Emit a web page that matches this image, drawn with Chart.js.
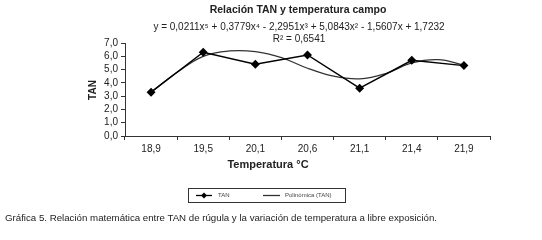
<!DOCTYPE html>
<html>
<head>
<meta charset="utf-8">
<script src="https://cdn.jsdelivr.net/npm/chart.js@4/dist/chart.umd.min.js"></script>
<style>
  html, body { margin: 0; padding: 0; background: #fff; }
  #wrap { position: relative; width: 542px; height: 240px; }
  #caption { position: absolute; left: 5px; top: 212px; font: 9.7px "Liberation Sans", Arial, sans-serif; color: #222; white-space: nowrap; }
</style>
</head>
<body>
<div id="wrap">
  <canvas id="c" width="542" height="240"></canvas>
  <div id="caption">Gráfica 5. Relación matemática entre TAN de rúgula y la variación de temperatura a libre exposición.</div>
</div>
<script>
// Categories (temperature °C)
const categories = ["18,9", "19,5", "20,1", "20,6", "21,1", "21,4", "21,9"];
// TAN observed values
const tanValues = [3.3, 6.3, 5.4, 6.1, 3.6, 5.7, 5.3];
// Polynomial trend line at half-category positions (1 = first category)
const trendX = [1, 1.5, 2, 2.5, 3, 3.5, 4, 4.5, 5, 5.5, 6, 6.5, 7];
const trendY = [3.3, 4.8, 6.0, 6.4, 6.35, 5.9, 5.1, 4.5, 4.3, 4.7, 5.5, 5.75, 5.35];
const yTicks = [0, 1, 2, 3, 4, 5, 6, 7];

const chartTitle = "Relación TAN y temperatura campo";
const equation = "y = 0,0211x\u2075 + 0,3779x\u2074 - 2,2951x\u00B3 + 5,0843x\u00B2 - 1,5607x + 1,7232";
const rSquared = "R\u00B2 = 0,6541";
const xTitle = "Temperatura °C";
const yTitle = "TAN";
const seriesLabel = "TAN";
const trendLabel = "Polinómica (TAN)";

const FONT = '"Liberation Sans", Arial, sans-serif';
const TXT = '#222';

const annot = {
  id: 'annot',
  afterDraw(chart) {
    const ctx = chart.ctx;
    ctx.save();
    ctx.fillStyle = TXT;
    ctx.textAlign = 'center';
    ctx.textBaseline = 'middle';
    ctx.font = 'bold 10.5px ' + FONT;
    ctx.fillText(chartTitle, 298, 10);
    ctx.font = '10px ' + FONT;
    ctx.fillText(equation, 299, 27);
    ctx.fillText(rSquared, 299, 39);
    ctx.font = 'bold 11px ' + FONT;
    ctx.fillText(xTitle, 268, 165);
    ctx.save();
    ctx.translate(93, 90);
    ctx.rotate(-Math.PI / 2);
    ctx.font = 'bold 10px ' + FONT;
    ctx.fillText(yTitle, 0, 0);
    ctx.restore();

    // legend box
    ctx.strokeStyle = '#333';
    ctx.lineWidth = 1;
    ctx.strokeRect(188.5, 188.5, 157, 14);
    const ly = 195.5;
    ctx.strokeStyle = '#000';
    ctx.lineWidth = 1.3;
    ctx.beginPath(); ctx.moveTo(196, ly); ctx.lineTo(212, ly); ctx.stroke();
    ctx.fillStyle = '#000';
    ctx.beginPath();
    ctx.moveTo(204, ly - 3); ctx.lineTo(207, ly); ctx.lineTo(204, ly + 3); ctx.lineTo(201, ly);
    ctx.closePath(); ctx.fill();
    ctx.strokeStyle = '#333';
    ctx.beginPath(); ctx.moveTo(263, ly); ctx.lineTo(280, ly); ctx.stroke();
    ctx.fillStyle = '#444';
    ctx.textAlign = 'left';
    ctx.font = '6px ' + FONT;
    ctx.fillText(chart.data.datasets[0].label, 218, ly);
    ctx.fillText(chart.data.datasets[1].label, 285, ly);
    ctx.restore();
  }
};

new Chart(document.getElementById('c'), {
  type: 'line',
  data: {
    labels: categories,
    datasets: [
      {
        label: seriesLabel,
        data: tanValues,
        borderColor: '#000',
        backgroundColor: '#000',
        borderWidth: 1.4,
        pointStyle: 'rectRot',
        pointRadius: 3.5,
        pointBackgroundColor: '#000',
        pointBorderColor: '#000',
        tension: 0,
        xAxisID: 'x',
        order: 0
      },
      {
        label: trendLabel,
        data: trendX.map((x, i) => ({ x: x, y: trendY[i] })),
        borderColor: '#333',
        borderWidth: 1.3,
        pointRadius: 0,
        tension: 0.4,
        xAxisID: 'xl',
        order: 1
      }
    ]
  },
  options: {
    responsive: false,
    animation: false,
    layout: { padding: { top: 43, right: 52, left: 0, bottom: 0 } },
    plugins: { legend: { display: false }, title: { display: false }, tooltip: { enabled: false } },
    scales: {
      x: {
        type: 'category',
        offset: true,
        afterFit: s => { s.height = 104; },
        grid: { offset: true, drawOnChartArea: false, drawTicks: true, tickLength: 4, color: '#333' },
        border: { display: true, color: '#333', width: 1 },
        ticks: { color: TXT, font: { family: FONT, size: 10 }, padding: 3, maxRotation: 0, autoSkip: false }
      },
      xl: {
        type: 'linear',
        display: false,
        min: 0.5,
        max: 7.5
      },
      y: {
        min: 0,
        max: 7,
        afterFit: s => { s.width = 125; },
        afterBuildTicks: s => { s.ticks = yTicks.map(v => ({ value: v })); },
        grid: { drawOnChartArea: false, drawTicks: true, tickLength: 4, color: '#333' },
        border: { display: true, color: '#333', width: 1 },
        ticks: { color: TXT, font: { family: FONT, size: 10 }, padding: 3, autoSkip: false,
                 callback: v => v.toFixed(1).replace('.', ',') }
      }
    }
  },
  plugins: [annot]
});
</script>
</body>
</html>
